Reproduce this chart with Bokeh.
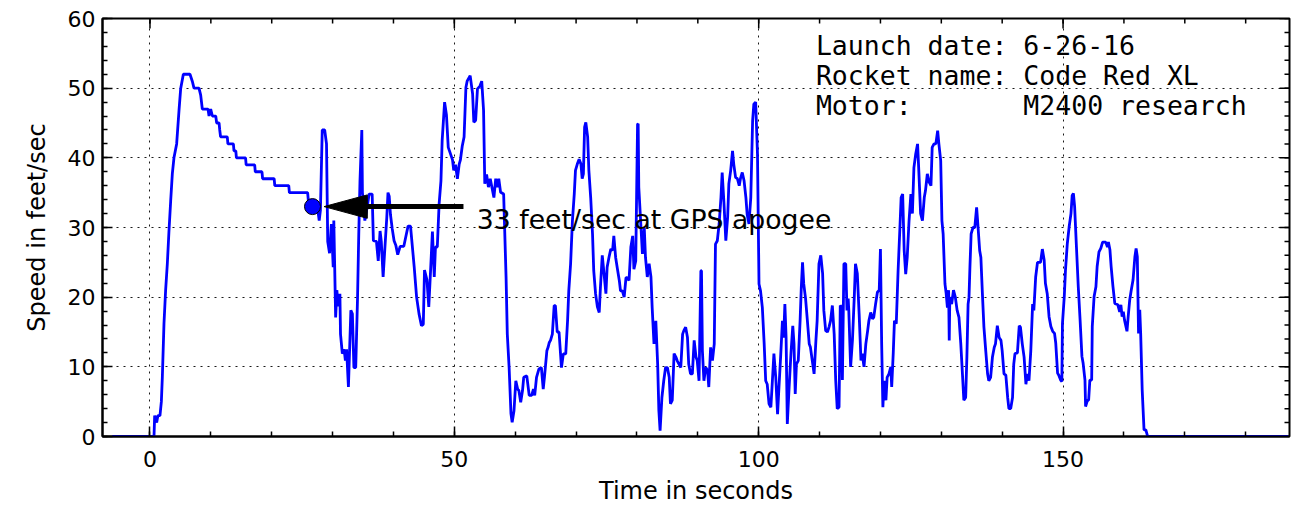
import math
from bokeh.plotting import figure
from bokeh.models import Range1d, SingleIntervalTicker
from bokeh.core.properties import value
from bokeh.embed import file_html
from bokeh.resources import INLINE

# ---------------- data ----------------
# boost and coast to GPS apogee
boost_time = [-6.2, 0.66, 0.77, 1.1, 1.3, 1.64, 1.87, 2.03, 2.3, 2.57,
              2.85, 3.12, 3.4, 3.67, 3.94, 4.38, 4.77, 5.04, 5.48, 6.57,
              6.95, 7.23, 8.05, 8.33, 8.6, 9.53, 9.7, 9.97, 10.25, 10.8,
              10.96, 11.35, 11.46, 11.6, 12.7, 12.8, 13.7, 13.8, 14.1, 14.2,
              15.7, 15.8, 17.2, 17.3, 18.4, 18.5, 20.4, 20.5, 22.8, 22.9,
              25.9, 26.1, 26.7]
boost_speed = [0, 0, 3, 2, 3, 3, 5, 8.5, 16.2, 21,
               24.8, 29.5, 33.8, 37.7, 40, 42, 46.8, 49.9, 52, 52,
               51, 50, 50, 49, 47, 47, 46, 47, 46, 46,
               45, 45, 44, 43, 43, 42, 42, 41, 41, 40,
               40, 39, 39, 38, 38, 37, 37, 36, 36, 35,
               35, 33, 33]

descent1_time = [27.5, 27.8, 28.0, 28.3, 28.7, 29.0, 29.2, 29.5, 29.8, 30.1,
                 30.2, 30.5, 30.7, 30.9, 31.2, 31.3, 31.6, 31.9, 32.1, 32.3,
                 32.6, 33.0, 33.25, 33.5, 33.8, 34.1, 34.3, 34.5, 34.8, 34.9,
                 35.3, 35.7, 36.0, 36.5, 36.7, 37.2, 37.5, 37.8, 38.0, 38.3,
                 38.6, 38.9, 39.1, 39.3, 39.5, 39.8, 40.1, 40.4, 40.7, 41.1,
                 41.7, 42.2, 42.4, 42.8, 43.4, 43.8, 44.2, 44.6, 44.9, 45.1,
                 45.5, 45.8, 46.1, 46.4, 46.7, 46.9, 47.2, 47.5, 47.8, 48.0,
                 48.4, 48.7, 49.0, 49.2, 49.7, 49.9, 50.2, 50.5, 50.8, 51.0,
                 51.3, 51.6, 51.9, 52.1, 52.6, 53.0, 53.2, 53.5, 53.8, 54.2,
                 54.5, 54.8, 55.0, 55.3, 55.6, 55.9]
descent1_speed = [33, 31, 32.5, 44, 44, 42, 28, 26.3, 30.5, 24.3,
                  31, 17.1, 21, 18.7, 20.5, 14.7, 11.9, 12.5, 10.9, 12.5,
                  7.1, 18.1, 17.6, 9.9, 9.9, 20, 29.1, 36.7, 44, 35,
                  31, 33, 34.8, 34.8, 28.1, 28, 25.2, 29.5, 28, 22.9,
                  27.2, 31.4, 35, 34.5, 31.9, 29.8, 28.1, 27.4, 26.1, 27.3,
                  27.3, 29.4, 30.2, 30.2, 24.4, 20, 17.6, 15.9, 16.1, 23.9,
                  22.5, 18.6, 23.9, 29.4, 22.9, 27.2, 27.2, 33.4, 36.7, 42.5,
                  48, 46.2, 41.5, 41, 39.7, 38.2, 39, 37, 39.1, 39.7,
                  41.7, 43, 50.1, 51, 51.8, 49.2, 45.1, 45.4, 49.9, 50.3,
                  51, 46.8, 36.3, 37.6, 35.8, 37]

descent2_time = [56.5, 56.8, 57.1, 57.3, 57.6, 58.1, 58.5, 58.7, 59.0, 59.3,
                 59.5, 59.8, 60.1, 60.4, 60.6, 60.9, 61.2, 61.4, 61.9, 62.3,
                 62.7, 63.0, 63.2, 63.5, 63.9, 64.3, 64.6, 64.8, 65.2, 65.4,
                 65.6, 65.8, 66.1, 66.4, 66.6, 66.9, 67.2, 67.6, 67.9, 68.3,
                 68.6, 68.8, 69.1, 69.4, 69.7, 69.9, 70.2, 70.5, 70.8, 71.0,
                 71.2, 71.4, 71.6, 71.9, 72.1, 72.4, 72.7, 72.9, 73.2, 73.5,
                 73.8, 74.0, 74.3, 74.6, 74.9, 75.1, 75.4, 75.7, 76.0, 76.2,
                 76.5, 76.8, 77.1, 77.3, 77.6, 77.9, 78.2, 78.4, 78.7, 79.0,
                 79.3, 79.5, 79.8]
descent2_speed = [34.3, 37.0, 35.8, 37.0, 35.05, 34.8, 22.8, 14.7, 9.9, 3.3,
                  2.05, 3.7, 8.0, 6.8, 6.6, 4.9, 6.6, 8.5, 8.7, 5.9,
                  5.9, 6.8, 5.9, 8.5, 9.7, 9.9, 6.8, 8.5, 12.3, 12.8,
                  13.5, 13.8, 14.7, 18.8, 18.8, 15.0, 15.0, 9.9, 11.85, 11.85,
                  16.6, 20.9, 24.8, 31.0, 34.8, 38.2, 39.1, 39.8, 39.1, 37.0,
                  37.7, 44.4, 45.1, 43.0, 38.2, 34.3, 29.1, 23.8, 20.5, 18.6,
                  17.8, 21.4, 26.0, 23.3, 20.5, 24.3, 25.7, 26.9, 26.7, 28.8,
                  25.7, 24.0, 22.4, 20.9, 20.9, 20.0, 22.8, 22.8, 22.4, 27.2,
                  28.8, 24.0, 25.2]

descent3_time = [80.1, 80.2, 80.3, 80.6, 80.9, 81.2, 81.4, 81.7, 82.0, 82.3,
                 82.5, 82.8, 83.1, 83.4, 83.6, 83.8, 84.1, 84.4, 84.7, 85.0,
                 85.3, 85.5, 85.8, 86.1, 86.4, 86.6, 87.2, 87.5, 87.7, 88.0,
                 88.3, 88.5, 88.8, 89.1, 89.4, 89.7, 89.9, 90.2, 90.5, 90.6,
                 90.75, 91.0, 91.3, 91.6, 91.8, 92.1, 92.4, 92.7, 92.9, 93.2,
                 93.5, 93.8, 94.0, 94.3, 94.6, 94.9, 95.1, 95.4, 95.7, 95.9,
                 96.2, 96.5, 96.8, 97.0, 97.3, 97.6, 97.9, 98.1, 98.4, 98.7,
                 99.0, 99.2, 99.5, 99.8, 100.05, 100.3, 100.6, 100.9, 101.15, 101.4,
                 101.7, 102.0, 102.25, 102.5, 102.8, 103.1, 103.3, 103.6, 103.9, 104.1,
                 104.3, 104.5]
descent3_speed = [44.8, 44.9, 35.8, 31.0, 26.2, 30.0, 25.7, 22.9, 24.8, 22.9,
                  18.5, 13.3, 16.6, 10.4, 3.7, 0.85, 5.6, 8.0, 9.9, 9.9,
                  8.5, 4.7, 5.2, 11.9, 11.4, 10.9, 9.9, 14.7, 15.2, 15.7,
                  14.2, 10.4, 9.0, 9.0, 13.8, 11.4, 10.9, 8.0, 23.8, 23.8,
                  12.3, 8.0, 9.9, 9.5, 7.1, 12.8, 10.9, 13.3, 27.6, 28.1,
                  30.5, 34.3, 37.9, 33.4, 28.1, 31.5, 36.3, 38.2, 41.0, 39.1,
                  37.2, 37.0, 36.0, 37.0, 37.9, 36.7, 34.3, 31.9, 30.5, 34.3,
                  45.3, 47.7, 48.0, 40.6, 21.9, 20.9, 18.5, 13.3, 8.0, 7.5,
                  4.7, 4.2, 8.0, 11.9, 8.5, 3.2, 6.6, 11.4, 16.6, 14.2,
                  19.0, 14.2]

descent4_time = [104.7, 105.0, 105.3, 105.6, 105.8, 106.0, 106.2, 106.5, 106.8, 107.0,
                 107.2, 107.4, 107.7, 108.0, 108.3, 108.5, 108.8, 109.1, 109.4, 109.6,
                 109.9, 110.2, 110.5, 110.7, 111.0, 111.3, 111.55, 111.8, 112.1, 112.4,
                 112.65, 112.9, 113.2, 113.4, 113.6, 113.75, 114.0, 114.3, 114.5, 114.7,
                 114.8, 115.1, 115.4, 115.7, 115.9, 116.2, 116.5, 116.8, 117.0, 117.3,
                 117.6, 117.9, 118.1, 118.4, 118.7, 118.9, 119.2, 119.5, 119.8, 120.0]
descent4_speed = [1.8, 7.1, 11.9, 15.9, 13.3, 6.1, 10.4, 10.9, 16.6, 21.4,
                  25.0, 21.9, 19.8, 16.6, 13.3, 12.8, 10.9, 9.0, 13.8, 16.6,
                  24.8, 26.0, 23.4, 18.1, 15.2, 15.0, 15.7, 16.6, 18.8, 14.7,
                  8.1, 4.0, 4.2, 18.8, 18.6, 8.1, 24.8, 24.8, 18.1, 19.8,
                  18.1, 10.0, 13.8, 20.0, 24.8, 23.4, 17.6, 10.9, 11.9, 10.0,
                  13.3, 15.2, 16.6, 17.8, 16.9, 17.1, 19.0, 20.7, 21.0, 26.9]

descent5_time = [120.2, 120.4, 120.6, 120.9, 121.1, 121.4, 121.7, 121.85, 122.1, 122.3,
                 122.6, 122.9, 123.2, 123.4, 123.65, 123.9, 124.15, 124.4, 124.7, 125.0,
                 125.25, 125.5, 125.8, 126.1, 126.3, 126.6, 126.9, 127.2, 127.4, 127.7,
                 128.0, 128.3, 128.5, 128.8, 129.1, 129.4, 129.6, 129.9, 130.1, 130.3,
                 130.6, 130.8, 131.0, 131.2, 131.3, 131.4, 131.7, 132.0, 132.3, 132.6,
                 132.9, 133.2, 133.5, 133.7, 134.0, 134.2, 134.4, 134.55, 134.7, 134.9,
                 135.2, 135.5, 135.8, 136.0, 136.3, 136.5, 136.75, 137.0, 137.3, 137.6,
                 137.8, 138.1, 138.4, 138.7, 138.9, 139.2, 139.5, 139.8, 140.0, 140.3,
                 140.6, 140.9, 141.1, 141.4, 141.7, 141.9, 142.1, 142.5, 142.8, 143.0,
                 143.3, 143.6, 143.9, 144.1, 144.4, 144.7, 145.0, 145.2, 145.5, 145.8,
                 146.3, 146.6, 146.9]
descent5_speed = [13.3, 4.2, 8.0, 5.2, 8.5, 9.0, 10.0, 7.1, 11.9, 16.6,
                  16.2, 23.8, 30.0, 34.3, 34.8, 26.7, 23.3, 25.7, 31.0, 34.8,
                  32.0, 38.6, 40.6, 42.0, 38.2, 32.0, 31.0, 34.3, 35.3, 37.7,
                  36.5, 36.0, 41.5, 42.0, 42.0, 43.9, 42.0, 39.6, 31.0, 29.1,
                  21.9, 20.5, 18.5, 21.0, 13.8, 20.0, 19.0, 21.0, 20.0, 18.1,
                  17.1, 13.3, 8.5, 5.2, 5.6, 11.4, 19.0, 20.0, 24.3, 29.1,
                  30.0, 30.0, 32.9, 30.5, 26.7, 25.7, 20.5, 15.7, 12.3, 9.0,
                  8.0, 8.5, 11.4, 12.8, 13.3, 15.9, 14.2, 13.8, 12.3, 9.0,
                  8.8, 5.6, 4.0, 4.0, 5.6, 10.4, 11.9, 12.0, 15.9, 15.7,
                  13.3, 11.4, 7.5, 9.0, 8.0, 12.3, 19.0, 18.1, 22.9, 25.0,
                  25.0, 26.9, 25.3]

landing_time = [147.1, 147.4, 147.7, 148.0, 148.3, 148.6, 148.8, 149.1, 149.3, 149.6,
                149.8, 149.9, 150.2, 150.4, 150.7, 151.0, 151.3, 151.5, 151.7, 151.9,
                152.2, 152.5, 152.8, 153.1, 153.3, 153.6, 153.7, 154.0, 154.2, 154.4,
                154.7, 154.8, 155.1, 155.4, 155.6, 155.9, 156.2, 156.5, 157.0, 157.3,
                157.45, 157.7, 157.9, 158.2, 158.5, 159.0, 159.3, 159.5, 159.7, 159.9,
                160.1, 160.5, 160.7, 160.95, 161.2, 161.5, 161.8, 162.0, 162.2, 162.4,
                162.6, 162.75, 163.0, 163.3, 163.6, 163.9, 187.0]
landing_speed = [22.0, 20.5, 17.2, 15.8, 15.1, 14.8, 13.4, 9.1, 8.8, 8.1,
                 7.9, 16.2, 20.1, 23.9, 27.7, 30.1, 32.0, 34.6, 34.9, 33.0,
                 27.2, 21.5, 16.7, 11.5, 10.5, 8.1, 4.3, 5.2, 5.2, 8.1,
                 8.1, 15.8, 20.1, 21.5, 24.4, 26.5, 27.0, 27.9, 27.9, 27.2,
                 27.9, 26.8, 24.4, 21.5, 19.1, 18.9, 17.9, 18.9, 17.2, 17.9,
                 16.7, 15.1, 17.2, 19.6, 21.0, 22.5, 25.8, 27.0, 25.8, 14.8,
                 18.2, 14.8, 6.7, 0.95, 0.95, 0, 0]

apogee_time = 26.7
apogee_speed = 33

x_limits = (-7.8, 187.2)
y_limits = (0, 60)
x_major_step, x_minor_step = 50, 10
y_major_step, y_minor_step = 10, 2

annotation_text = "33 feet/sec at GPS apogee"
NB = "\u00a0"
info_lines = ["Launch date: 6-26-16",
              "Rocket name: Code Red XL",
              "Motor:" + NB * 7 + "M2400 research"]

time = (boost_time + descent1_time + descent2_time + descent3_time +
        descent4_time + descent5_time + landing_time)
speed = (boost_speed + descent1_speed + descent2_speed + descent3_speed +
         descent4_speed + descent5_speed + landing_speed)
assert len(time) == len(speed), (len(time), len(speed))

# ---------------- figure ----------------
FONT = "DejaVu Sans"
p = figure(width=1291, height=507,
           x_range=Range1d(*x_limits), y_range=Range1d(*y_limits),
           output_backend="svg", toolbar_location=None,
           min_border_left=102, min_border_right=2,
           min_border_top=18, min_border_bottom=71)
p.background_fill_color = "white"
p.border_fill_color = "white"
p.outline_line_color = "black"
p.outline_line_width = 2

xt = SingleIntervalTicker(interval=x_major_step, num_minor_ticks=x_major_step // x_minor_step)
yt = SingleIntervalTicker(interval=y_major_step, num_minor_ticks=y_major_step // y_minor_step)
p.xaxis.ticker = xt
p.yaxis.ticker = yt

for ax in p.xaxis + p.yaxis:
    ax.axis_line_color = "black"
    ax.axis_line_width = 2
    ax.major_tick_in = 10
    ax.major_tick_out = 0
    ax.minor_tick_in = 5
    ax.minor_tick_out = 0
    ax.major_tick_line_color = "black"
    ax.minor_tick_line_color = "black"
    ax.major_tick_line_width = 1.5
    ax.minor_tick_line_width = 1.5
    ax.major_label_text_font = FONT
    ax.major_label_text_font_size = "22px"
    ax.major_label_text_color = "black"
    ax.axis_label_text_font = FONT
    ax.axis_label_text_font_size = "24px"
    ax.axis_label_text_font_style = "normal"
    ax.axis_label_text_color = "black"

bx = p.xaxis[0]
bx.axis_label = "Time in seconds"
bx.major_label_standoff = 14
bx.axis_label_standoff = 7

ly = p.yaxis[0]
ly.axis_label = "Speed in feet/sec"
ly.major_label_standoff = 7
ly.axis_label_standoff = 14

p.xgrid.ticker = xt
p.ygrid.ticker = yt
for g in (p.xgrid, p.ygrid):
    g.grid_line_color = "black"
    g.grid_line_dash = "2 5"
    g.grid_line_width = 1
    g.grid_line_alpha = 0.9

# inward ticks on the top and right edges (matplotlib-classic box)
def tick_positions(lo, hi, step):
    start = math.ceil(lo / step) * step
    out = []
    v = start
    while v <= hi + 1e-9:
        out.append(v)
        v += step
    return out

top_minor = tick_positions(*x_limits, x_minor_step)
top_major = tick_positions(*x_limits, x_major_step)
right_minor = tick_positions(*y_limits, y_minor_step)
right_major = tick_positions(*y_limits, y_major_step)

p.ray(x=top_minor, y=[y_limits[1]] * len(top_minor), length=5, length_units="screen",
      angle=-math.pi / 2, line_color="black", line_width=1.5)
p.ray(x=top_major, y=[y_limits[1]] * len(top_major), length=10, length_units="screen",
      angle=-math.pi / 2, line_color="black", line_width=1.5)
p.ray(x=[x_limits[1]] * len(right_minor), y=right_minor, length=5, length_units="screen",
      angle=math.pi, line_color="black", line_width=1.5)
p.ray(x=[x_limits[1]] * len(right_major), y=right_major, length=10, length_units="screen",
      angle=math.pi, line_color="black", line_width=1.5)

# speed trace
p.line(time, speed, line_color="#0000ff", line_width=2.8)

# annotation arrow (head + shaft) pointing to apogee
tip_x = apogee_time + 1.9
head_len = 7.1
head_half = 1.68
tail_x = 51.5
p.segment(x0=[tail_x], y0=[apogee_speed], x1=[tip_x + head_len * 0.9], y1=[apogee_speed],
          line_color="black", line_width=5)
p.patch([tip_x, tip_x + head_len, tip_x + head_len],
        [apogee_speed, apogee_speed + head_half, apogee_speed - head_half],
        fill_color="black", line_color="black", line_width=1)

p.scatter([apogee_time], [apogee_speed], size=16, marker="circle",
          fill_color="#0000ff", line_color="black", line_width=1)

p.text(x=[53.7], y=[31.2], text=[annotation_text],
       text_font=value(FONT), text_font_size=value("26.7px"),
       text_color="black", text_align="left", text_baseline="alphabetic")

p.text(x=[109.4] * 3, y=[56.1, 51.8, 47.5], text=info_lines,
       text_font=value("DejaVu Sans Mono"), text_font_size=value("26.5px"),
       text_color="black", text_align="left", text_baseline="alphabetic")

open("out.html", "w").write(file_html(p, INLINE))
